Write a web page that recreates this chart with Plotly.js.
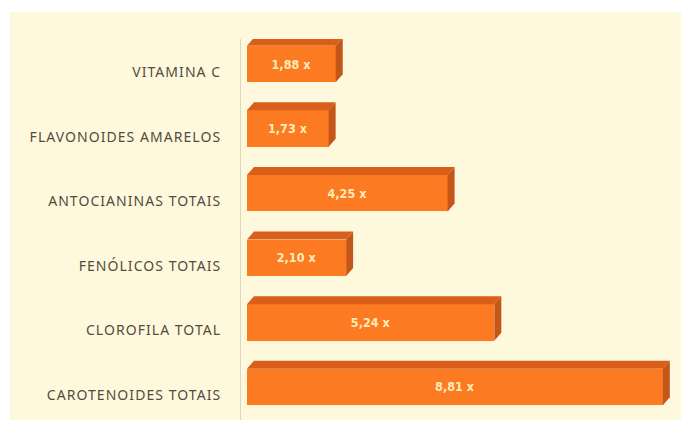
<!DOCTYPE html>
<html>
<head>
<meta charset="utf-8">
<script src="https://cdn.plot.ly/plotly-3.0.1.min.js"></script>
<style>
  html, body { margin: 0; padding: 0; background: #ffffff; width: 681px; height: 421px; overflow: hidden; }
  #chart { position: absolute; left: 10px; top: 12px; width: 671px; height: 408px; }
  #chart .ytick text { letter-spacing: 1.05px; }
</style>
</head>
<body>
<div id="chart"></div>
<script>
// Categories listed from top to bottom
const categories = [
  "VITAMINA C",
  "FLAVONOIDES AMARELOS",
  "ANTOCIANINAS TOTAIS",
  "FENÓLICOS TOTAIS",
  "CLOROFILA TOTAL",
  "CAROTENOIDES TOTAIS"
];
const values = [1.88, 1.73, 4.25, 2.10, 5.24, 8.81];

// layout constants
const W = 671, H = 408;
const M = {l: 231, r: 0, t: 27, b: 0};
const xRange = [-0.127, 9.195];
const yRange = [-0.511, 5.387];
const barWidth = 0.565;
const depthPxX = 7, depthPxY = 8;

const n = categories.length;
const ypos = categories.map((c, i) => n - 1 - i);
const labels = values.map(v => v.toFixed(2).replace('.', ',') + ' x');

const plotW = W - M.l - M.r, plotH = H - M.t - M.b;
const dx = depthPxX * (xRange[1] - xRange[0]) / plotW;
const dy = depthPxY * (yRange[1] - yRange[0]) / plotH;

const shapes = [];
values.forEach((v, i) => {
  const y = ypos[i];
  const yt = y + barWidth / 2, yb = y - barWidth / 2;
  shapes.push({
    type: 'path', xref: 'x', yref: 'y', layer: 'above',
    path: `M 0,${yt} L ${v},${yt} L ${v + dx},${yt + dy} L ${dx},${yt + dy} Z`,
    fillcolor: '#D95E1A', line: {width: 0}
  });
  shapes.push({
    type: 'path', xref: 'x', yref: 'y', layer: 'above',
    path: `M ${v},${yt} L ${v + dx},${yt + dy} L ${v + dx},${yb + dy} L ${v},${yb} Z`,
    fillcolor: '#C5561A', line: {width: 0}
  });
});

const trace = {
  type: 'bar',
  orientation: 'h',
  x: values,
  y: ypos,
  width: barWidth,
  text: labels,
  textposition: 'inside',
  insidetextanchor: 'middle',
  textangle: 0,
  constraintext: 'none',
  insidetextfont: {family: 'Liberation Sans Narrow, DejaVu Sans Condensed, Roboto, sans-serif', size: 12.5, color: '#FFEDB8', weight: 'bold'},
  marker: {color: '#FC7A22', line: {width: 0}},
  hoverinfo: 'none'
};

const layout = {
  width: W, height: H,
  margin: M,
  paper_bgcolor: '#FEF9DD',
  plot_bgcolor: 'rgba(0,0,0,0)',
  showlegend: false,
  bargap: 0,
  xaxis: {
    range: xRange, showgrid: false, zeroline: false, showline: false,
    showticklabels: false, ticks: '', fixedrange: true
  },
  yaxis: {
    range: yRange, tickvals: ypos, ticktext: categories,
    showgrid: false, zeroline: false,
    showline: true, linecolor: '#DCD6C2', linewidth: 1,
    ticks: '', ticklabelstandoff: 16, ticklabelshift: 8,
    tickfont: {family: 'Noto Sans, sans-serif', size: 14, color: '#554B3E'},
    fixedrange: true
  },
  shapes: shapes
};

Plotly.newPlot('chart', [trace], layout, {displayModeBar: false, staticPlot: true});
</script>
</body>
</html>
